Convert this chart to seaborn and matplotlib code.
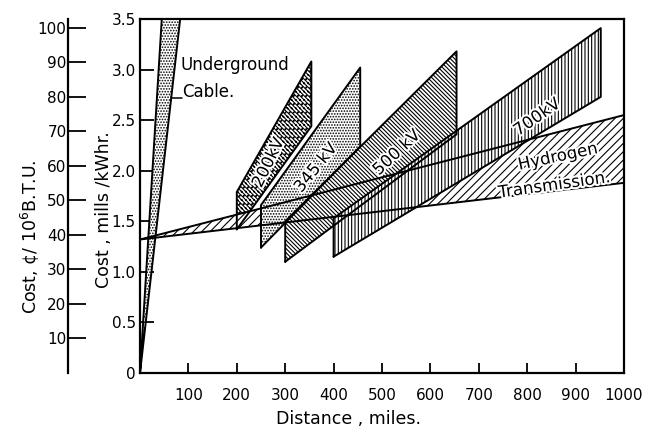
import matplotlib
matplotlib.use("Agg")
import matplotlib.pyplot as plt
import matplotlib.patheffects as pe
import pandas as pd
import seaborn as sns

# Transmission cost bands (mills/kWh) against distance (miles)
line_names = ["200kV", "345 kV", "500 kV", "700kV"]
line_start_miles = [200, 250, 300, 400]
line_end_miles = [354, 455, 654, 952]
line_start_low = [1.42, 1.24, 1.10, 1.15]
line_start_high = [1.79, 1.66, 1.50, 1.53]
line_end_low = [2.44, 2.24, 2.36, 2.73]
line_end_high = [3.08, 3.02, 3.18, 3.41]

hydrogen_miles = [0, 1000]
hydrogen_low = [1.32, 1.88]
hydrogen_high = [1.32, 2.55]

cable_miles = [0, 45, 83]
cable_cost = [0.0, 3.5, 3.5]

distance_ticks = [100, 200, 300, 400, 500, 600, 700, 800, 900, 1000]
mills_ticks = [0, 0.5, 1.0, 1.5, 2.0, 2.5, 3.0, 3.5]
mills_tick_labels = ["0", "0.5", "1.0", "1.5", "2.0", "2.5", "3.0", "3.5"]
btu_ticks = [10, 20, 30, 40, 50, 60, 70, 80, 90, 100]
CENTS_PER_MBTU_PER_MILL = 29.3

sns.set_theme(style="ticks")
plt.rcParams.update({
    "font.family": ["DejaVu Sans"],
    "axes.edgecolor": "black",
    "text.color": "black",
    "axes.labelcolor": "black",
    "xtick.color": "black",
    "ytick.color": "black",
    "hatch.linewidth": 0.8,
    "hatch.color": "black",
})

fig = plt.figure(figsize=(6.45, 4.29), dpi=100)
ax = fig.add_axes([140 / 645, 56 / 429, 484 / 645, 354 / 429])
ax.set_xlim(0, 1000)
ax.set_ylim(0, 3.5)

band_hatches = ["\\" * 8 + "....", "......", "\\" * 8, "|" * 5]
band_zorders = [2, 3, 4, 5]


def band_outline(s, e, sl, sh, el, eh):
    return [s, e, e, s, s], [sl, el, eh, sh, sl]


outlines = []
for i, name in enumerate(line_names):
    xs, ys = band_outline(line_start_miles[i], line_end_miles[i],
                          line_start_low[i], line_start_high[i],
                          line_end_low[i], line_end_high[i])
    ax.fill(xs, ys, facecolor="white", edgecolor="black", linewidth=0,
            hatch=band_hatches[i], zorder=band_zorders[i])
    outlines.append(pd.DataFrame({"miles": xs, "cost": ys, "band": name}))

# hydrogen pipeline wedge
hx = [hydrogen_miles[0], hydrogen_miles[1], hydrogen_miles[1], hydrogen_miles[0]]
hy = [hydrogen_low[0], hydrogen_low[1], hydrogen_high[1], hydrogen_high[0]]
ax.fill(hx, hy, facecolor="white", edgecolor="black", linewidth=0,
        hatch="////", zorder=2.5)
outlines.append(pd.DataFrame({"miles": hx + [hx[0]], "cost": hy + [hy[0]],
                              "band": "Hydrogen"}))

# underground cable wedge
ax.fill(cable_miles, cable_cost, facecolor="white", edgecolor="black",
        linewidth=0, hatch="......", zorder=6)
outlines.append(pd.DataFrame({"miles": cable_miles + [cable_miles[0]],
                              "cost": cable_cost + [cable_cost[0]],
                              "band": "Cable"}))

for df in outlines:
    sns.lineplot(data=df, x="miles", y="cost", sort=False, estimator=None,
                 color="black", linewidth=1.4, ax=ax, zorder=7, legend=False)

halo = [pe.withStroke(linewidth=3, foreground="white")]
label_kw = dict(fontsize=12, ha="center", va="center", rotation_mode="anchor",
                zorder=8, path_effects=halo)
ax.text(265, 2.08, "200kV", rotation=64, **label_kw)
ax.text(363, 2.03, "345 kV", rotation=51, **label_kw)
ax.text(530, 2.18, "500 kV", rotation=43, **label_kw)
ax.text(820, 2.53, "700kV", rotation=35, **label_kw)
ax.text(863, 2.14, "Hydrogen", rotation=12, **label_kw)
ax.text(856, 1.86, "Transmission.", rotation=8, **label_kw)
ax.text(84, 3.05, "Underground", fontsize=12, ha="left", va="center", zorder=8)
ax.text(87, 2.78, "Cable.", fontsize=12, ha="left", va="center", zorder=8)
ax.plot([66, 86], [2.72, 2.72], color="black", linewidth=1.1, zorder=8)

ax.set_xticks(distance_ticks)
ax.set_xticklabels([str(t) for t in distance_ticks])
ax.set_yticks(mills_ticks)
ax.set_yticklabels(mills_tick_labels)
ax.tick_params(axis="x", direction="in", length=7, width=1.3, pad=11, labelsize=11)
ax.tick_params(axis="y", direction="in", length=10, width=1.3, pad=3, labelsize=11)
for sp in ax.spines.values():
    sp.set_linewidth(1.6)
    sp.set_color("black")
ax.set_xlabel("")
ax.set_ylabel("")

sec = ax.secondary_yaxis(-72 / 484,
                         functions=(lambda m: m * CENTS_PER_MBTU_PER_MILL,
                                    lambda c: c / CENTS_PER_MBTU_PER_MILL))
sec.set_yticks(btu_ticks)
sec.set_yticklabels([str(t) for t in btu_ticks])
sec.tick_params(direction="in", length=13, width=1.3, pad=1, labelsize=11)
sec.spines["left"].set_linewidth(1.6)
sec.spines["left"].set_color("black")

fig.text(348 / 645, 1 - 419 / 429, "Distance , miles.", fontsize=12.5,
         ha="center", va="center")
fig.text(104 / 645, 1 - 210 / 429, "Cost , mills /kWhr.", fontsize=12.5,
         rotation=90, ha="center", va="center")
fig.text(30 / 645, 1 - 237 / 429, "Cost, ¢/ 10$^6$B.T.U.", fontsize=12.5,
         rotation=90, ha="center", va="center")

fig.savefig("out.png", dpi=100)
